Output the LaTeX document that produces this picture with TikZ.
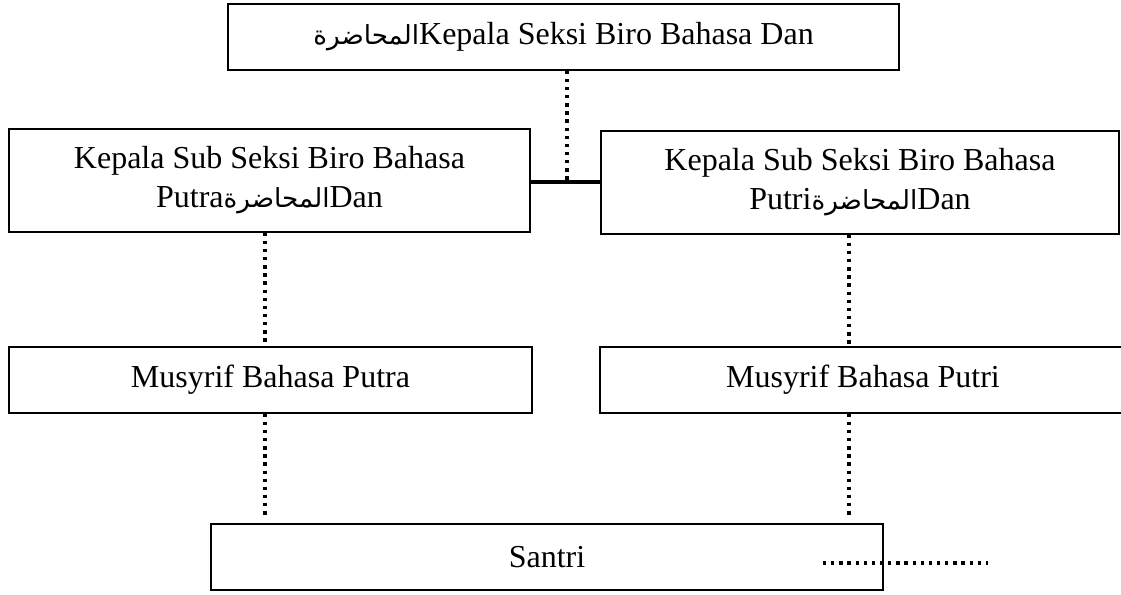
\documentclass[tikz,border=0pt]{standalone}
\usepackage{fontspec}
\setmainfont{Liberation Serif}
\newfontfamily\arabicfont[Script=Arabic,Scale=0.82]{DejaVu Sans}
\TeXXeTstate=1
\newcommand{\muhadarah}{{\arabicfont\beginR المحاضرة\endR}}
\usetikzlibrary{positioning}

\begin{document}
\begin{tikzpicture}
          [x=0.5pt, y=-0.5pt,
           box/.style={draw, rectangle, line width=0.65pt, inner sep=0pt, align=center,
                       font=\fontsize{16}{19.5}\selectfont},
           dotline/.style={line width=1.65pt, dash pattern=on 1.65pt off 2.42pt},
           joinline/.style={line width=2pt}]
          \useasboundingbox (0,0) rectangle (1121,595);

          \node (kepala) [box, minimum width=335.5pt, minimum height=33pt] at (563.5,37) {\muhadarah Kepala Seksi Biro Bahasa Dan};
          \node (subpa) [box, minimum width=260.5pt, minimum height=51.5pt] at (269.5,180.5) {Kepala Sub Seksi Biro Bahasa\\ Putra\muhadarah Dan};
          \node (subpi) [box, minimum width=259pt, minimum height=51.5pt] at (860,182.5) {Kepala Sub Seksi Biro Bahasa\\ Putri\muhadarah Dan};
          \node (mpa) [box, minimum width=261.5pt, minimum height=33pt] at (270.5,380) {Musyrif Bahasa Putra};
          \node (mpi) [box, minimum width=263pt, minimum height=33pt] at (863,380) {Musyrif Bahasa Putri};
          \node (santri) [box, minimum width=336pt, minimum height=33pt] at (547,557) {Santri};

          \coordinate (j) at (567,182);
          \coordinate (dotsa) at (823,563);
          \coordinate (dotsb) at (988,563);

          \draw[dotline] (kepala.south -| j) -- (j);
          \draw[joinline] (subpa.east |- j) -- (subpi.west |- j);
          \draw[dotline] ([xshift=-2.25pt]subpa.south) -- ([xshift=-2.25pt]subpa.south |- mpa.north);
          \draw[dotline] ([xshift=-2.75pt]mpa.south) -- ([xshift=-2.75pt,yshift=2pt]mpa.south |- santri.north);
          \draw[dotline] ([xshift=-5.5pt]subpi.south) -- ([xshift=-5.5pt]subpi.south |- mpi.north);
          \draw[dotline] ([xshift=-7pt]mpi.south) -- ([xshift=-7pt,yshift=2pt]mpi.south |- santri.north);
          \draw[dotline] (dotsa) -- (dotsb);

        \end{tikzpicture}
\end{document}
